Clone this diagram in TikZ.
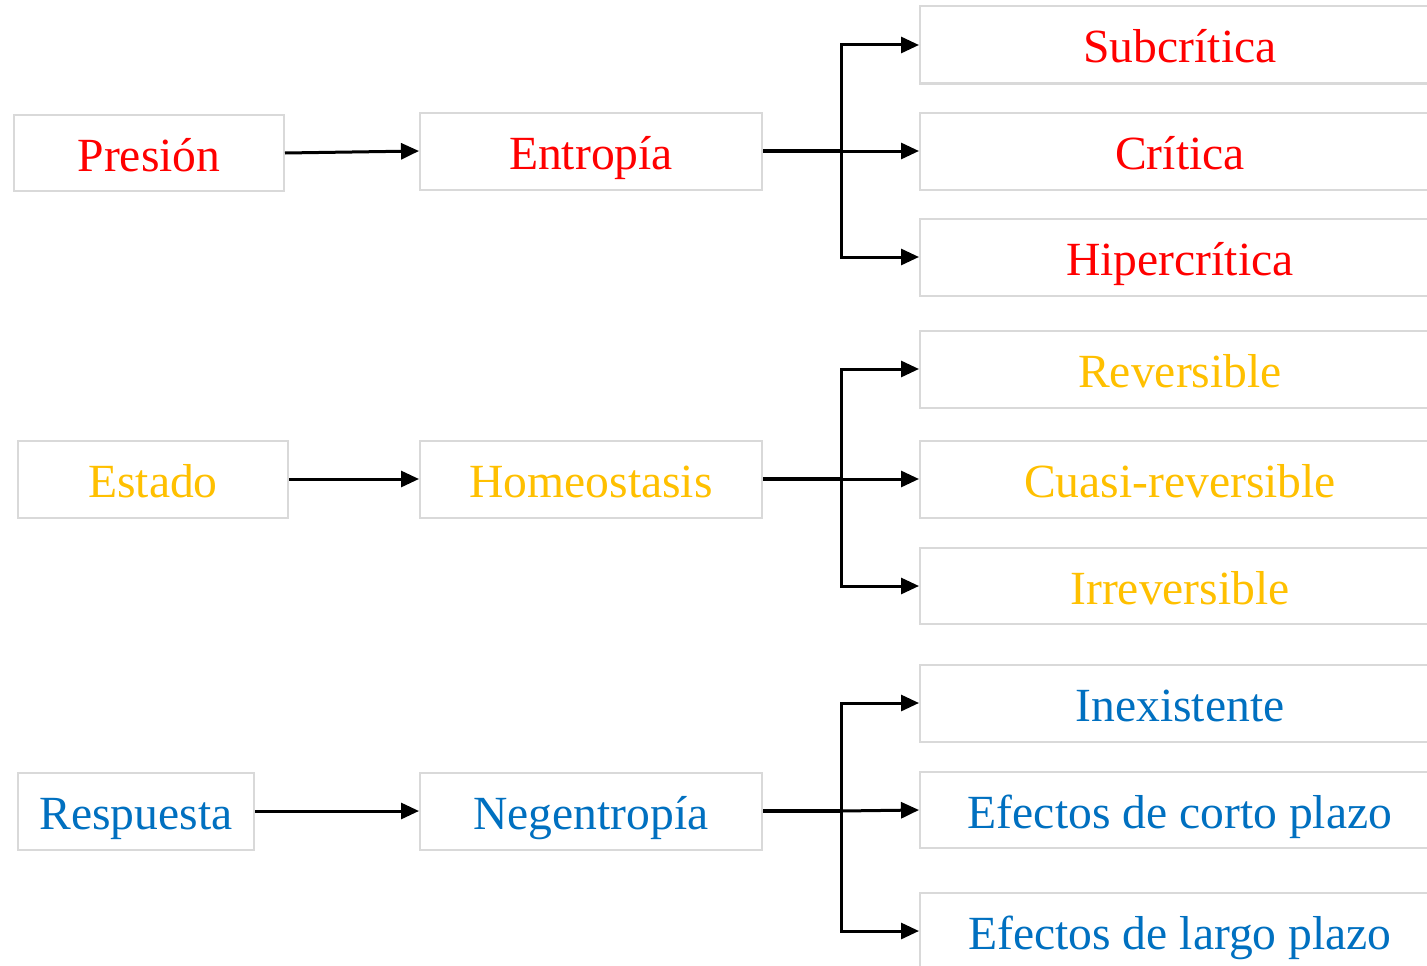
\documentclass[tikz,border=0pt]{standalone}
\usepackage{fontspec}
\setmainfont{Liberation Serif}
\usetikzlibrary{arrows.meta}
\definecolor{cred}{RGB}{255,0,0}
\definecolor{cyel}{RGB}{255,192,0}
\definecolor{cblu}{RGB}{0,112,192}
\definecolor{cgray}{RGB}{217,217,217}
\begin{document}
\begin{tikzpicture}[x=1pt,y=-1pt,
  box/.style={draw=cgray,line width=2pt,fill=white,inner sep=0pt,
    font=\fontsize{47.6}{57}\selectfont,text height=38pt,text depth=2pt},
  lbox/.style={box,minimum height=77pt},
  rbox/.style={box,minimum width=520pt,minimum height=77pt},
  arr/.style={line width=3pt,-{Triangle[length=18pt,width=16pt]}},
  trunk/.style={line width=4.2pt}]
\clip (0,0) rectangle (1427,966);
\useasboundingbox (0,0) rectangle (1427,966);
% row 1
\node[lbox,minimum width=270pt,minimum height=76pt,text=cred] (pres) at (149,153) {Presión};
\node[lbox,minimum width=342pt,text=cred] (ent) at (591,151) {Entropía};
\node[rbox,text=cred] (sub) at (1180,45) {Subcrítica};
\node[rbox,text=cred] (cri) at (1180,151) {Crítica};
\node[rbox,text=cred] (hip) at (1180,257) {Hipercrítica};
% row 2
\node[lbox,minimum width=270pt,text=cyel] (est) at (153,479) {Estado};
\node[lbox,minimum width=342pt,text=cyel] (hom) at (591,479) {Homeostasis};
\node[rbox,text=cyel] (rev) at (1180,369) {Reversible};
\node[rbox,text=cyel] (cua) at (1180,479) {Cuasi-reversible};
\node[rbox,minimum height=76pt,text=cyel] (irr) at (1180,586) {Irreversible};
% row 3
\node[lbox,minimum width=236pt,text=cblu] (resp) at (136,811) {Respuesta};
\node[lbox,minimum width=342pt,text=cblu] (neg) at (591,811) {Negentropía};
\node[rbox,text=cblu] (inex) at (1180,703) {Inexistente};
\node[rbox,minimum height=76pt,text=cblu] (cor) at (1180,810) {Efectos de corto plazo};
\node[rbox,text=cblu] (lar) at (1180,931) {Efectos de largo plazo};
% junction coordinates
\coordinate (j1) at (841,151);
\coordinate (j2) at (841,479);
\coordinate (j3) at (841,811);
% connectors
\draw[arr] (pres.east) -- (ent.west);
\draw[arr] (est.east) -- (hom.west);
\draw[arr] (resp.east) -- (neg.west);
\draw[trunk] (ent.east) -- (j1);
\draw[trunk] (hom.east) -- (j2);
\draw[trunk] (neg.east) -- (j3);
\draw[arr] (j1) |- (sub.west);
\draw[arr] (j1) -- (cri.west);
\draw[arr] (j1) |- (hip.west);
\draw[arr] (j2) |- (rev.west);
\draw[arr] (j2) -- (cua.west);
\draw[arr] (j2) |- (irr.west);
\draw[arr] (j3) |- (inex.west);
\draw[arr] (j3) -- (cor.west);
\draw[arr] (j3) |- (lar.west);
\end{tikzpicture}
\end{document}
